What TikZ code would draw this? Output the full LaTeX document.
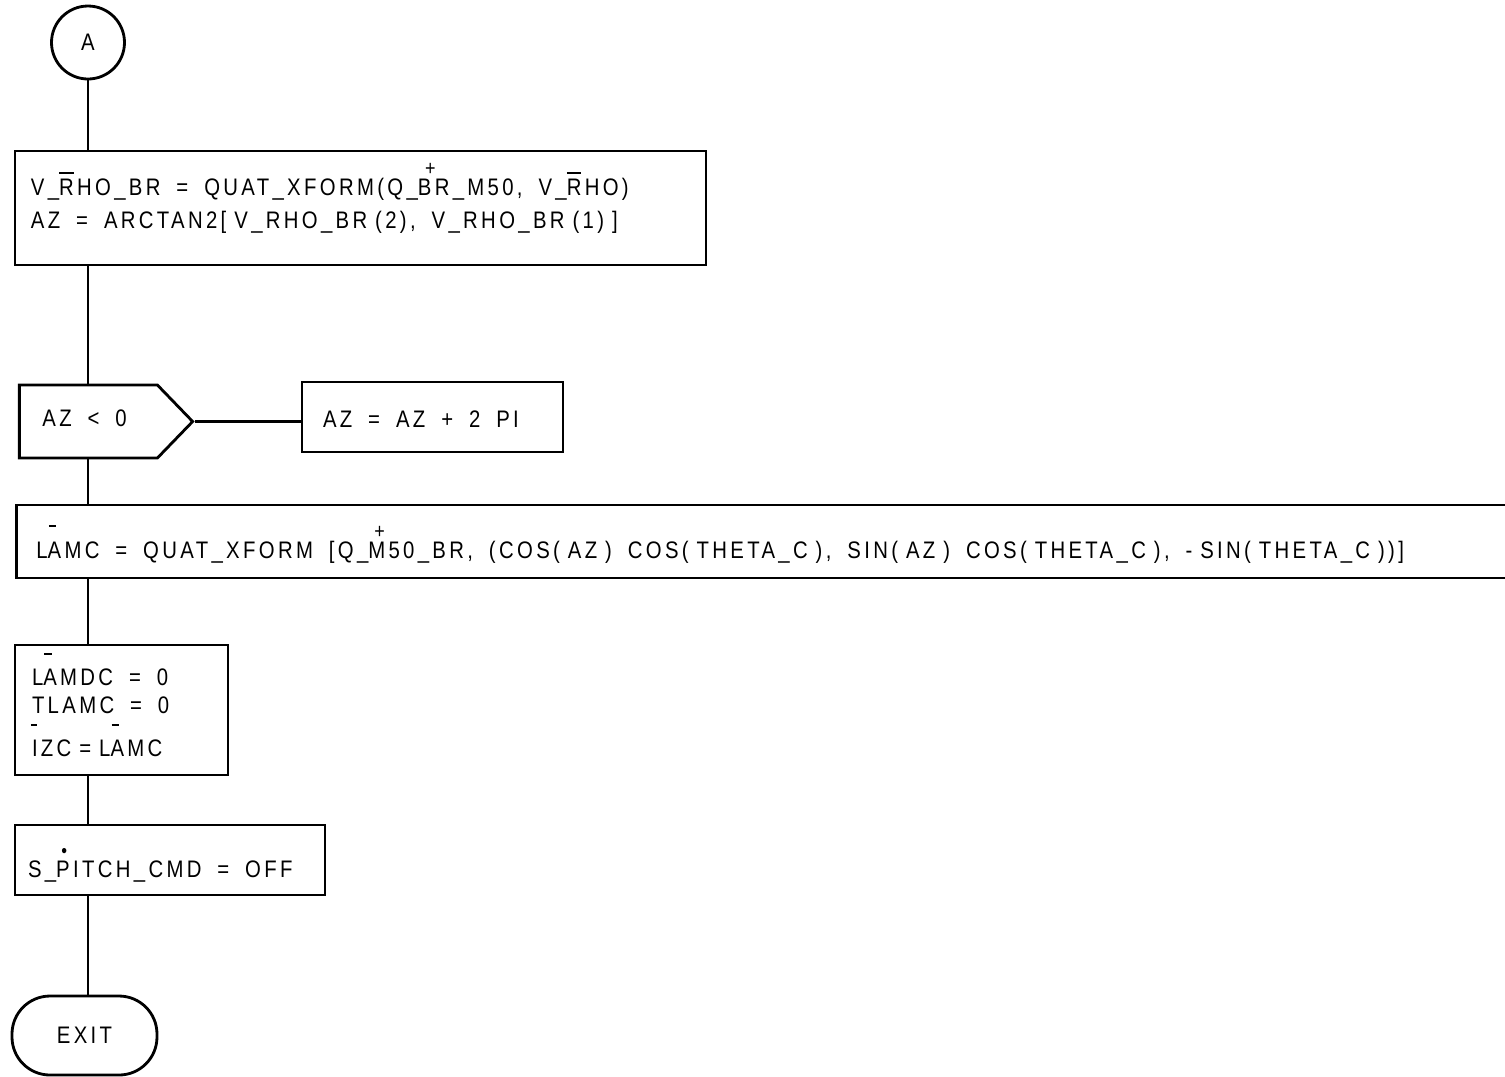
\documentclass[tikz,border=0pt]{standalone}
\usepackage{fontspec}
\setmainfont{Liberation Sans}[FakeStretch=0.85,LetterSpace=14]
\usepackage{tikz}
\usetikzlibrary{shapes.symbols}

% marks set over a letter (bar, plus, dot)
\newcommand{\markover}[3]{\makebox[0pt][l]{\hspace{#1}\raisebox{#2}{#3}}}
\newcommand{\wbar}{\markover{0pt}{0.86em}{\rule{0.6em}{0.1em}}}
\newcommand{\lbar}{\markover{0.05em}{1.28em}{\rule{0.3em}{0.09em}}}
\newcommand{\ibar}{\markover{-0.05em}{1.28em}{\rule{0.25em}{0.09em}}}
\newcommand{\qplus}[1]{\markover{#1}{0.8em}{\fontsize{6}{6}\selectfont +}}
\newcommand{\qdot}{\markover{0.22em}{0.8em}{\fontsize{5.5}{5.5}\selectfont\textbullet}}

\begin{document}
\begin{tikzpicture}[font=\fontsize{6.8}{9.4}\selectfont,
    procbox/.style={draw, thick, align=left, inner ysep=0pt, inner xsep=#1},
    procbox/.default=0.17cm]
  \useasboundingbox (0,0) rectangle (15.05,-10.76);
  % ---- connector A ----
  \node[circle, draw, thick, minimum size=0.73cm, inner sep=0pt] (conA) at (0.88,-0.425) {A};
  % ---- rho into body frame ----
  \node[procbox=0.16cm, text width=6.59cm, minimum height=1.14cm, text height=7pt, text depth=14.4pt]
    (xform) at (3.605,-2.08)
    {V\_\wbar RHO\_BR~~=~~QUAT\_XFORM(Q\_\qplus{0.3em}BR\_M50,~~V\_\wbar RHO)\\
     AZ~~=~~ARCTAN2[ V\_RHO\_BR (2),~~V\_RHO\_BR (1) ]};
  % ---- test on AZ ----
  \node[signal, draw, thick, signal to=east, signal pointer angle=92, text width=0.92cm,
    inner xsep=0.23cm, minimum height=0.73cm, text height=4pt, text depth=0.9pt, anchor=west]
    (azneg) at (0.18,-4.215) {AZ~~<~~0};
  \node[procbox=0.21cm, text width=2.19cm, minimum height=0.70cm, text height=5.7pt, text depth=0pt]
    (azfix) at (4.325,-4.17) {AZ~~=~~AZ~~+~~2~~PI};
  % ---- commanded lambda ----
  \node[procbox=0.20cm, text width=14.8cm, minimum height=0.73cm, text height=10.9pt, text depth=1.5pt, anchor=west]
    (lamc) at (0.15,-5.415)
    {L\lbar AMC~~=~~QUAT\_XFORM~~[Q\_\qplus{0.25em}M50\_BR,~~(COS( AZ )~~COS( THETA\_C ),~~SIN( AZ )~~COS( THETA\_C ),~~- SIN( THETA\_C ))]};
  \node[procbox, text width=1.79cm, minimum height=1.30cm, text height=5.7pt, text depth=19.4pt,
    font=\fontsize{6.8}{7.7}\selectfont] (lamdc) at (1.215,-7.10)
    {L\lbar AMDC~~=~~0\\
     TLAMC~~=~~0\\[2pt]
     \ibar IZC = L\lbar AMC};
  \node[procbox=0.13cm, text width=2.84cm, minimum height=0.70cm, text height=10.2pt, text depth=0.5pt]
    (pitch) at (1.70,-8.60) {S\_\qdot PITCH\_CMD~~=~~OFF};
  % ---- exit ----
  \node[draw, thick, rounded corners=0.38cm, minimum width=1.45cm, minimum height=0.79cm]
    (exit) at (0.845,-10.355) {EXIT\hspace{0.15cm}};
  % ---- flow line ----
  \foreach \a/\b in {conA/xform, xform/azneg, azneg/lamc, lamc/lamdc, lamdc/pitch, pitch/exit}
    \draw[thick] (\a.south -| conA) -- (\b.north -| conA);
  \draw[thick] (azneg.east) -- (azneg.east -| azfix.west);
\end{tikzpicture}
\end{document}
